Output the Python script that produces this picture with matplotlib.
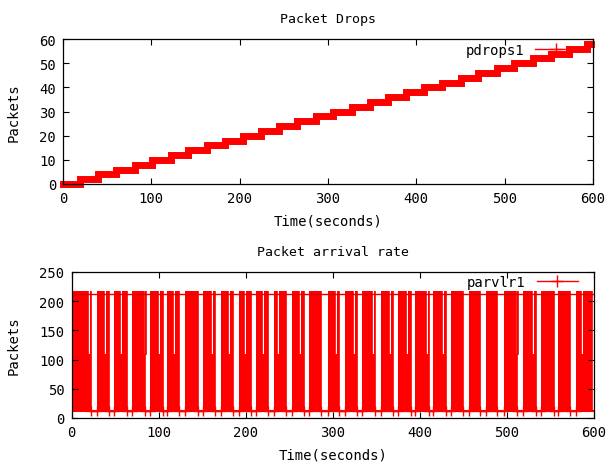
import matplotlib
matplotlib.use('Agg')
import matplotlib.pyplot as plt
from matplotlib.lines import Line2D

# Packet drops: time when the counter steps up, and the new value
drop_times = [0, 19, 40, 60, 81, 101, 122, 142, 163, 183, 204, 224, 245, 265, 286,
              306, 327, 347, 368, 388, 409, 429, 450, 470, 491, 511, 532, 552, 573, 593]
drop_vals = [0, 2, 4, 6, 8, 10, 12, 14, 16, 18, 20, 22, 24, 26, 28,
             30, 32, 34, 36, 38, 40, 42, 44, 46, 48, 50, 52, 54, 56, 58]

# Packet arrival rate: high / low / mid levels, idle gaps and short dips
rate_high = 218
rate_low = 12
rate_mid = 110
rate_line = 213
rate_end = 598
gaps = [(22, 29), (43, 49), (64, 69), (84, 90), (105, 110), (124, 130), (145, 151),
        (165, 172), (186, 192), (206, 212), (226, 232), (246, 253), (267, 273),
        (287, 294), (307, 314), (328, 334), (349, 355), (369, 375), (390, 395),
        (410, 415), (430, 436), (450, 457), (469, 476), (489, 497), (512, 519),
        (533, 539), (554, 559), (572, 579)]
dips = [19, 37.5, 55.5, 83, 99, 117, 160, 180, 198.5, 218.5, 236.5, 261, 303,
        323, 345.5, 365, 384, 407.5, 425, 510, 529, 585]

plt.rcParams['font.family'] = 'DejaVu Sans Mono'
plt.rcParams['font.size'] = 10
plt.rcParams['axes.titlesize'] = 9.5

RED = '#ff0000'
fig = plt.figure(figsize=(6.10, 4.64), dpi=100)
W, H = 610, 464


def add_axes(left, right, top, bottom):
    return fig.add_axes([left / W, 1 - bottom / H, (right - left) / W, (bottom - top) / H])


def style(ax, left):
    ax.tick_params(direction='in', top=True, right=True, length=4, width=0.8, pad=5)
    for s in ax.spines.values():
        s.set_linewidth(0.9)
    ax.set_xlim(0, 600)
    ax.set_xticks([0, 100, 200, 300, 400, 500, 600])
    ax.set_xlabel('Time(seconds)', labelpad=6)
    ax.set_ylabel('Packets')
    width = ax.get_position().width * W
    ax.yaxis.set_label_coords((21 - left) / width, 0.5)


def key(ax, name, y):
    h = Line2D([], [], color=RED, lw=1, marker='+', ms=8)
    ax.legend([h], [name], loc='center right', bbox_to_anchor=(0.97, y), frameon=False,
              markerfirst=False, handlelength=3, handletextpad=0.8, borderpad=0,
              borderaxespad=0, numpoints=1)


# ---- top: packet drops
ax1 = add_axes(63, 593, 40, 185)
ax1.step(drop_times + [598], drop_vals + [drop_vals[-1]], where='post',
         color=RED, lw=5, solid_joinstyle='miter', clip_on=False)
ax1.set_ylim(0, 60)
ax1.set_yticks([0, 10, 20, 30, 40, 50, 60])
ax1.set_title('Packet Drops', pad=12)
style(ax1, 63)
key(ax1, 'pdrops1', 0.924)

# ---- bottom: packet arrival rate
events = [(a, b, rate_low) for a, b in gaps] + [(d, d + 2.3, rate_mid) for d in dips]
events.sort()
t = [0]
y = [rate_high]
for a, b, lev in events:
    t += [a, b]
    y += [lev, rate_high]
t += [rate_end, 600]
y += [rate_low, rate_low]

ax2 = add_axes(71.5, 594, 273, 419)
ax2.fill_between(t, rate_low, y, step='post', color=RED, lw=0)
ax2.step(t, y, where='post', color=RED, lw=0.6)
low_t = [a for a, b in gaps] + [b for a, b in gaps]
ax2.plot(low_t, [rate_low] * len(low_t), ls='none', marker='+', ms=7, color=RED, clip_on=False)
ax2.axhline(rate_low, color=RED, lw=1.5)
ax2.axhline(rate_line, color='#e00000', lw=1)
ax2.set_ylim(0, 250)
ax2.set_yticks([0, 50, 100, 150, 200, 250])
ax2.set_title('Packet arrival rate', pad=12)
style(ax2, 71.5)
key(ax2, 'parvlr1', 0.93)

fig.savefig('out.png', dpi=100)
